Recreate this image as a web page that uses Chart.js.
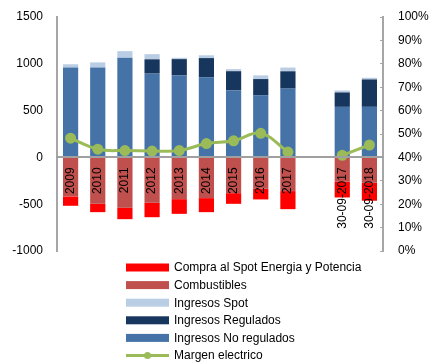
<!DOCTYPE html>
<html>
<head>
<meta charset="utf-8">
<script src="https://cdn.jsdelivr.net/npm/chart.js@4/dist/chart.umd.min.js"></script>
<style>
  html, body { margin: 0; padding: 0; background: #fff; }
  #wrap { width: 430px; height: 363px; }
</style>
</head>
<body>
<div id="wrap"><canvas id="margen-Chart" width="430" height="363"></canvas></div>
<script>
const labels = ["2009", "2010", "2011", "2012", "2013", "2014", "2015", "2016", "2017", "", "30-09-2017", "30-09-2018"];
const noRegulados = [960, 960, 1065, 895, 875, 855, 715, 665, 735, null, 540, 540];
const regulados = [0, 0, 0, 153, 175, 206, 206, 172, 185, null, 154, 293];
const spot = [35, 55, 70, 55, 14, 30, 22, 39, 40, null, 21, 18];
const combustibles = [-417, -496, -539, -485, -446, -435, -382, -335, -360, null, -257, -271];
const compra = [-100, -89, -121, -154, -157, -150, -114, -114, -193, null, -171, -192];
const margen = [48.2, 43.5, 42.9, 42.7, 42.9, 45.9, 47.1, 50.3, 42.3, null, 40.9, 45.3];

const fontFam = "'Liberation Sans', Arial, sans-serif";
Chart.defaults.font.family = fontFam;
Chart.defaults.font.size = 12;
Chart.defaults.color = "#000";

const data = {
  labels: labels,
  datasets: [
    { label: "Ingresos No regulados", data: noRegulados, backgroundColor: "#4573A8", order: 1 },
    { label: "Ingresos Regulados", data: regulados, backgroundColor: "#17365D", order: 1 },
    { label: "Ingresos Spot", data: spot, backgroundColor: "#B9CDE5", order: 1 },
    { label: "Combustibles", data: combustibles, backgroundColor: "#C0504D", order: 1 },
    { label: "Compra al Spot Energia y Potencia", data: compra, backgroundColor: "#FF0000", order: 1 },
    {
      type: "line",
      label: "Margen electrico",
      data: margen,
      yAxisID: "y1",
      order: 0,
      borderColor: "#9BBB59",
      backgroundColor: "#9BBB59",
      pointBackgroundColor: "#9BBB59",
      pointBorderColor: "#9BBB59",
      borderWidth: 3,
      pointRadius: 4,
      tension: 0.4,
      spanGaps: false,
    },
  ],
};

// legend in one column under the plot, like the original
const legendOrder = [4, 3, 2, 1, 0, 5];
const columnLegend = {
  id: "columnLegend",
  afterDraw(chart) {
    const ctx = chart.ctx;
    ctx.save();
    ctx.font = "12px " + fontFam;
    ctx.textBaseline = "middle";
    ctx.fillStyle = "#000";
    legendOrder.forEach((idx, i) => {
      const ds = chart.data.datasets[idx];
      const y = 267.5 + i * 17.6;
      if (ds.type === "line") {
        ctx.strokeStyle = ds.borderColor;
        ctx.lineWidth = 3;
        ctx.beginPath();
        ctx.moveTo(126, y);
        ctx.lineTo(169, y);
        ctx.stroke();
        ctx.fillStyle = ds.backgroundColor;
        ctx.beginPath();
        ctx.arc(147.5, y, 3.5, 0, Math.PI * 2);
        ctx.fill();
      } else {
        ctx.fillStyle = ds.backgroundColor;
        ctx.fillRect(126, y - 4, 43, 8);
      }
      ctx.fillStyle = "#000";
      ctx.fillText(ds.label, 174, y + 0.5);
    });
    ctx.restore();
  },
};

// fixed side widths; drop the extra top/bottom room that tick padding adds
function fixSide(w) {
  return (scale) => {
    scale.width = w;
    scale.paddingTop = 7;
    scale.paddingBottom = 7;
  };
}

const config = {
  type: "bar",
  data: data,
  plugins: [columnLegend],
  options: {
    responsive: false,
    animation: false,
    maintainAspectRatio: false,
    categoryPercentage: 1,
    barPercentage: 0.56,
    layout: { padding: { top: 17, bottom: 112, left: 0, right: 0 } },
    plugins: {
      legend: { display: false },
      tooltip: { enabled: false },
    },
    scales: {
      x: {
        stacked: true,
        position: { y: 0 },
        grid: { display: false, drawTicks: false },
        border: { display: true, color: "#A0A0A0", width: 2, z: 1 },
        ticks: {
          z: 1,
          autoSkip: false,
          minRotation: 90,
          maxRotation: 90,
          padding: 10,
          font: { size: 12 },
        },
      },
      y: {
        stacked: true,
        position: "left",
        min: -1000,
        max: 1500,
        afterFit: fixSide(57),
        grid: { display: false, drawTicks: false },
        border: { display: true, color: "#A6A6A6", width: 2 },
        ticks: {
          stepSize: 500,
          padding: 14,
          font: { size: 12 },
          callback: (v) => String(v),
        },
      },
      y1: {
        position: "right",
        min: 0,
        max: 100,
        afterFit: fixSide(47),
        // short tick marks pointing into the plot
        grid: {
          display: true,
          drawOnChartArea: false,
          drawTicks: true,
          tickLength: -3,
          color: "#A6A6A6",
          lineWidth: 1,
        },
        border: { display: true, color: "#A6A6A6", width: 2 },
        ticks: {
          stepSize: 10,
          padding: 18,
          font: { size: 12 },
          callback: (v) => v + "%",
        },
      },
    },
  },
};

let myChart = new Chart(document.getElementById("margen-Chart"), config);
</script>
</body>
</html>
